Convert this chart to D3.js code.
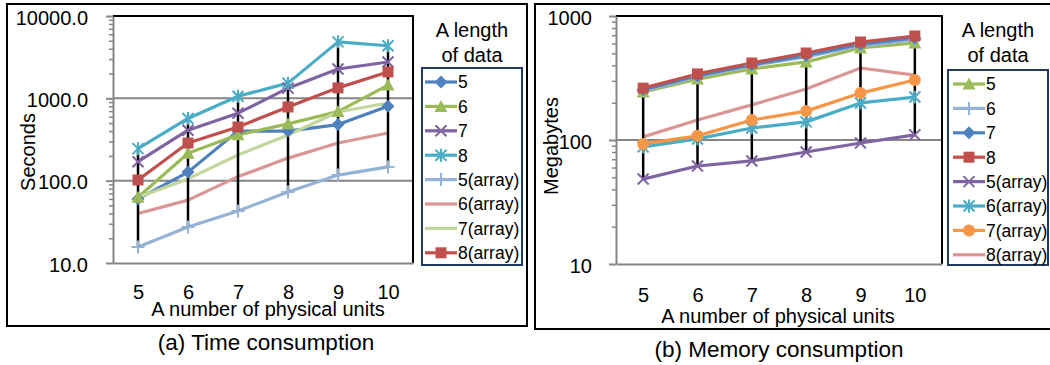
<!DOCTYPE html>
<html><head><meta charset="utf-8">
<script src="https://cdn.jsdelivr.net/npm/d3@7"></script>
<style>body{margin:0;background:#fff} svg{display:block;font-family:"Liberation Sans",Arial,sans-serif}</style>
</head><body><svg id="c" width="1050" height="365"></svg>
<script>
// ---------- data ----------
const categories = [5, 6, 7, 8, 9, 10];
const seriesNames = ["5", "6", "7", "8", "5(array)", "6(array)", "7(array)", "8(array)"];

// (a) Time consumption, seconds
const time5 = [60, 127, 400, 400, 480, 800];
const time6 = [63, 215, 360, 490, 690, 1450];
const time7 = [170, 410, 660, 1330, 2270, 2760];
const time8 = [245, 570, 1060, 1530, 4850, 4350];
const time5arr = [15.6, 27.4, 42.8, 73, 117, 147];
const time6arr = [40, 58, 112, 188, 287, 379];
const time7arr = [63, 105, 205, 359, 683, 877];
const time8arr = [102, 287, 449, 785, 1340, 2090];

// (b) Memory consumption, megabytes
const mem5 = [244, 310, 374, 426, 552, 606];
const mem6 = [250, 322, 398, 468, 575, 645];
const mem7 = [255, 330, 405, 480, 592, 665];
const mem8 = [262, 341, 418, 503, 617, 690];
const mem5arr = [48.4, 61.7, 67.8, 80, 94.6, 110];
const mem6arr = [88, 102, 125, 140, 199, 222];
const mem7arr = [93, 108, 145, 171, 239, 305];
const mem8arr = [106, 145, 192, 258, 381, 334];

const timeTicks = [10, 100, 1000, 10000];
const timeTickLabels = ["10.0", "100.0", "1000.0", "10000.0"];
const memTicks = [10, 100, 1000];
const memTickLabels = ["10", "100", "1000"];

// ---------- styles ----------
const timeStyles = [
  {c:"#4F81BD", m:"diamond"}, {c:"#9BBB59", m:"triangle"}, {c:"#8064A2", m:"x"}, {c:"#4BACC6", m:"star"},
  {c:"#95B3D7", m:"plus"}, {c:"#D99694", m:"none"}, {c:"#C3D69B", m:"none"}, {c:"#C0504D", m:"square"}
];
const memStyles = [
  {c:"#9BBB59", m:"triangle"}, {c:"#95B3D7", m:"plus"}, {c:"#4F81BD", m:"diamond"}, {c:"#C0504D", m:"square"},
  {c:"#8064A2", m:"x"}, {c:"#4BACC6", m:"star"}, {c:"#F79646", m:"circle"}, {c:"#D99694", m:"none"}
];

const panels = [
  {
    values: [time5, time6, time7, time8, time5arr, time6arr, time7arr, time8arr],
    styles: timeStyles, ticks: timeTicks, tickLabels: timeTickLabels,
    plot: {x0:113, x1:413, y0:16, y1:263}, outer: {x0:7, y0:4, x1:527, y1:326},
    yLabel: "Seconds", yLabelPos: [28, 152], yPad: 18, xPad: 21.5,
    xTitle: [268, 316], caption: "(a) Time consumption", capPos: [266, 350],
    legend: {x0:422, y0:68, x1:522, y1:265, tx:472, lx0:425, lx1:457}
  },
  {
    values: [mem5, mem6, mem7, mem8, mem5arr, mem6arr, mem7arr, mem8arr],
    styles: memStyles, ticks: memTicks, tickLabels: memTickLabels,
    plot: {x0:616, x1:942, y0:16, y1:264}, outer: {x0:535, y0:4, x1:1060, y1:329},
    yLabel: "Megabytes", yLabelPos: [551, 146], yPad: 17, xPad: 23.8,
    xTitle: [778, 323], caption: "(b) Memory consumption", capPos: [779, 357],
    legend: {x0:948, y0:70, x1:1048, y1:265, tx:998, lx0:953, lx1:985}
  }
];

const svg = d3.select("#c");
const GRAY = "#868686";

function marker(g, type, x, y, color) {
  const s = 5.5;
  if (type === "diamond") {
    g.append("path").attr("d", `M${x},${y-s-1}L${x+s+1},${y}L${x},${y+s+1}L${x-s-1},${y}Z`).attr("fill", color);
  } else if (type === "triangle") {
    g.append("path").attr("d", `M${x},${y-s-1}L${x+s+1},${y+s}L${x-s-1},${y+s}Z`).attr("fill", color);
  } else if (type === "square") {
    g.append("rect").attr("x", x-s).attr("y", y-s).attr("width", 2*s).attr("height", 2*s).attr("fill", color);
  } else if (type === "circle") {
    g.append("circle").attr("cx", x).attr("cy", y).attr("r", s+0.5).attr("fill", color);
  } else if (type === "x" || type === "star" || type === "plus") {
    const p = d3.path();
    if (type !== "plus") { p.moveTo(x-s, y-s); p.lineTo(x+s, y+s); p.moveTo(x+s, y-s); p.lineTo(x-s, y+s); }
    if (type === "star" || type === "plus") { p.moveTo(x, y-s-1); p.lineTo(x, y+s+1); }
    if (type === "plus") { p.moveTo(x-s-1, y); p.lineTo(x+s+1, y); }
    g.append("path").attr("d", p.toString()).attr("stroke", color).attr("stroke-width", 2).attr("fill", "none");
  }
}

panels.forEach(P => {
  const g = svg.append("g");
  g.append("rect").attr("x", P.outer.x0).attr("y", P.outer.y0)
    .attr("width", P.outer.x1 - P.outer.x0).attr("height", P.outer.y1 - P.outer.y0)
    .attr("fill", "none").attr("stroke", "#000").attr("stroke-width", 2);

  const x = d3.scalePoint().domain(categories).range([P.plot.x0, P.plot.x1]).padding(0.5);
  const y = d3.scaleLog().domain([P.ticks[0], P.ticks[P.ticks.length-1]]).range([P.plot.y1, P.plot.y0]);

  g.append("g").selectAll("line").data(P.ticks.slice(1, -1)).join("line")
    .attr("x1", P.plot.x0).attr("x2", P.plot.x1).attr("y1", d => y(d)).attr("y2", d => y(d))
    .attr("stroke", GRAY).attr("stroke-width", 2);
  g.append("path").attr("d", `M${P.plot.x0},${P.plot.y0}H${P.plot.x1}V${P.plot.y1}`)
    .attr("fill", "none").attr("stroke", "#000").attr("stroke-width", 2);

  const minor = [];
  for (let k = 0; k < P.ticks.length - 1; k++) for (let m = 2; m <= 9; m++) minor.push(P.ticks[k] * m);
  g.append("g").attr("transform", `translate(${P.plot.x0},0)`)
    .call(d3.axisLeft(y).tickValues(minor).tickSize(4).tickFormat(""))
    .call(a => a.select(".domain").remove())
    .call(a => a.selectAll("line").attr("stroke", GRAY).attr("stroke-width", 1.5));
  g.append("g").attr("transform", `translate(${P.plot.x0},0)`)
    .call(d3.axisLeft(y).tickValues(P.ticks).tickSize(7).tickPadding(P.yPad)
      .tickFormat((d, i) => P.tickLabels[i]).tickSizeOuter(0))
    .call(a => a.select(".domain").attr("stroke", GRAY).attr("stroke-width", 2))
    .call(a => a.selectAll("line").attr("stroke", GRAY).attr("stroke-width", 2))
    .call(a => a.selectAll("text").attr("font-size", 20).attr("fill", "#000").attr("font-family", null).attr("dy", "0.4em"));
  g.append("g").attr("transform", `translate(0,${P.plot.y1})`)
    .call(d3.axisBottom(x).tickSize(0).tickPadding(P.xPad).tickSizeOuter(0))
    .call(a => a.select(".domain").attr("stroke", GRAY).attr("stroke-width", 2))
    .call(a => a.selectAll("text").attr("font-size", 20).attr("fill", "#000").attr("font-family", null));

  const line = d3.line().x((d, i) => x(categories[i])).y(d => y(d));
  P.values.forEach((vals, si) => {
    g.append("path").attr("d", line(vals)).attr("fill", "none")
      .attr("stroke", P.styles[si].c).attr("stroke-width", 3.2).attr("stroke-linejoin", "round");
  });
  g.append("g").selectAll("line").data(categories).join("line")
    .attr("x1", d => x(d)).attr("x2", d => x(d))
    .attr("y1", (d, i) => y(d3.max(P.values, v => v[i])))
    .attr("y2", (d, i) => y(d3.min(P.values, v => v[i])))
    .attr("stroke", "#000").attr("stroke-width", 2.5);
  P.values.forEach((vals, si) => {
    const mg = g.append("g");
    vals.forEach((v, i) => marker(mg, P.styles[si].m, x(categories[i]), y(v), P.styles[si].c));
  });

  g.append("text").attr("transform", `translate(${P.yLabelPos[0]},${P.yLabelPos[1]}) rotate(-90)`)
    .attr("text-anchor", "middle").attr("dy", "0.35em").attr("font-size", 20).text(P.yLabel);
  g.append("text").attr("x", P.xTitle[0]).attr("y", P.xTitle[1]).attr("text-anchor", "middle")
    .attr("font-size", 20).text("A number of physical units");
  g.append("text").attr("x", P.capPos[0]).attr("y", P.capPos[1]).attr("text-anchor", "middle")
    .attr("font-size", 22.5).text(P.caption);

  const L = P.legend;
  g.append("text").attr("x", L.tx).attr("y", 37).attr("text-anchor", "middle").attr("font-size", 20).text("A length");
  g.append("text").attr("x", L.tx).attr("y", 62).attr("text-anchor", "middle").attr("font-size", 20).text("of data");
  g.append("rect").attr("x", L.x0).attr("y", L.y0).attr("width", L.x1 - L.x0).attr("height", L.y1 - L.y0)
    .attr("fill", "#fff").attr("stroke", "#1F3864").attr("stroke-width", 2);
  seriesNames.forEach((name, si) => {
    const ry = L.y0 + 14 + si * 24.4;
    const st = P.styles[si];
    g.append("line").attr("x1", L.lx0).attr("x2", L.lx1).attr("y1", ry).attr("y2", ry)
      .attr("stroke", st.c).attr("stroke-width", 3.2);
    marker(g, st.m, (L.lx0 + L.lx1) / 2, ry, st.c);
    g.append("text").attr("x", L.lx1 + 1).attr("y", ry).attr("dy", "0.36em").attr("font-size", 17.5).text(name);
  });
});
</script>
</body></html>
